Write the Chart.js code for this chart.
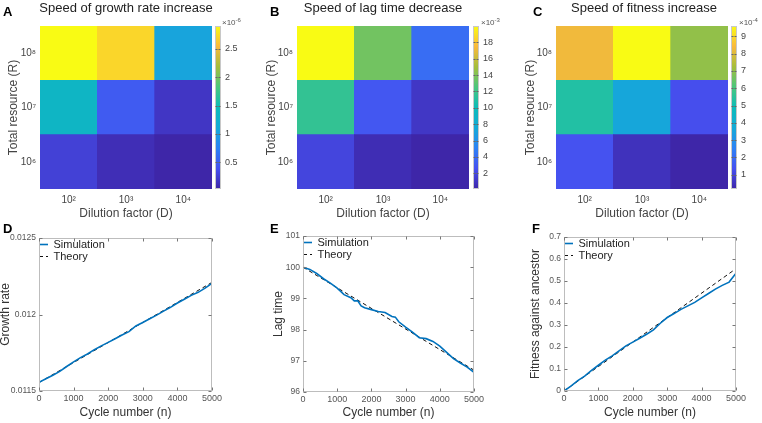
<!DOCTYPE html>
<html><head><meta charset="utf-8">
<script src="https://cdn.jsdelivr.net/npm/chart.js@4.4.1/dist/chart.umd.min.js"></script>
<style>
html,body{margin:0;padding:0;background:#fff;}
body{width:762px;height:423px;position:relative;overflow:hidden;font-family:"Liberation Sans",Arial,sans-serif;}
canvas.c{position:absolute;}
.t{position:absolute;white-space:nowrap;color:#222;font-size:13px;line-height:13px;}
.ttl{text-align:center;}
.l{position:absolute;font-weight:bold;font-size:13px;line-height:13px;color:#000;}
.e{position:absolute;font-size:8px;line-height:8px;color:#555;white-space:nowrap;}
.e sup{font-size:6px;vertical-align:3px;}
</style></head><body>

<canvas id="hA" class="c" width="254" height="225" style="left:0px;top:0px"></canvas>
<canvas id="hB" class="c" width="254" height="225" style="left:254px;top:0px"></canvas>
<canvas id="hC" class="c" width="254" height="225" style="left:508px;top:0px"></canvas>
<canvas id="cA" class="c" width="40" height="225" style="left:210px;top:0px"></canvas>
<canvas id="cB" class="c" width="40" height="225" style="left:468px;top:0px"></canvas>
<canvas id="cC" class="c" width="36" height="225" style="left:726px;top:0px"></canvas>
<canvas id="lD" class="c" width="254" height="198" style="left:0px;top:225px"></canvas>
<canvas id="lE" class="c" width="254" height="198" style="left:254px;top:225px"></canvas>
<canvas id="lF" class="c" width="254" height="198" style="left:508px;top:225px"></canvas>

<div class="l" style="left:3px;top:5px">A</div>
<div class="l" style="left:270px;top:5px">B</div>
<div class="l" style="left:533px;top:5px">C</div>
<div class="l" style="left:3px;top:222px">D</div>
<div class="l" style="left:270px;top:222px">E</div>
<div class="l" style="left:532px;top:222px">F</div>

<div class="t ttl" style="left:26px;width:200px;top:1px">Speed of growth rate increase</div>
<div class="t ttl" style="left:283px;width:200px;top:1px">Speed of lag time decrease</div>
<div class="t ttl" style="left:544px;width:200px;top:1px">Speed of fitness increase</div>

<div class="e" style="left:222px;top:16px">×10<sup>-6</sup></div>
<div class="e" style="left:481px;top:16px">×10<sup>-3</sup></div>
<div class="e" style="left:739px;top:16px">×10<sup>-4</sup></div>

<script>
// ---------------- data ----------------
const dilutionLabels = ['10²', '10³', '10⁴'];          // D
const resourceLabels = ['10⁶', '10⁷', '10⁸'];          // R, bottom to top
// rows: R = 1e6, 1e7, 1e8 ; columns: D = 1e2, 1e3, 1e4
const growthSpeed  = [[0.26, 0.10, 0.03], [1.33, 0.47, 0.17], [2.90, 2.70, 1.05]];   // x1e-6
const lagSpeed     = [[1.9, 0.5, 0.08],   [11.6, 2.9, 1.1],   [20.0, 13.6, 4.0]];    // x1e-3
const fitnessSpeed = [[1.4, 0.5, 0.17],   [5.3, 3.6, 1.3],    [8.3, 9.6, 7.0]];      // x1e-4
const growthBarTicks  = [0.5, 1, 1.5, 2, 2.5];
const lagBarTicks     = [2, 4, 6, 8, 10, 12, 14, 16, 18];
const fitnessBarTicks = [1, 2, 3, 4, 5, 6, 7, 8, 9];

const cycleTicks = [0, 1000, 2000, 3000, 4000, 5000];
const growthTicks = [0.0115, 0.012, 0.0125];
const lagTicks = [96, 97, 98, 99, 100, 101];
const fitnessTicks = [0, 0.1, 0.2, 0.3, 0.4, 0.5, 0.6, 0.7];

const simCycles = [0,200,400,600,800,1000,1200,1400,1600,1800,2000,2200,2400,2600,2800,3000,3200,3400,3600,3800,4000,4200,4400,4600,4800,5000];
const simGrowth = [0.011557,0.011580,0.011603,0.011628,0.011660,0.011690,0.011718,0.011742,0.011770,0.011795,0.011818,0.011842,0.011866,0.011888,0.011925,0.011948,0.011972,0.011996,0.012022,0.012047,0.012075,0.012100,0.012125,0.012145,0.012172,0.012204];
const simLagCycles = [0,200,400,600,800,1000,1200,1400,1500,1600,1700,1800,2000,2200,2400,2600,2700,2800,3000,3200,3400,3600,3800,4000,4200,4400,4600,4800,5000];
const simLag = [100.0,99.93,99.80,99.63,99.49,99.33,99.12,99.02,98.92,98.92,98.76,98.70,98.64,98.58,98.55,98.42,98.40,98.25,98.08,97.92,97.74,97.71,97.62,97.47,97.27,97.07,96.93,96.80,96.63];
const simFitness = [0,0.022,0.047,0.068,0.094,0.117,0.140,0.160,0.182,0.205,0.222,0.240,0.258,0.278,0.308,0.334,0.352,0.371,0.387,0.403,0.423,0.443,0.463,0.480,0.495,0.535];
const theoryCycles = [0, 5000];
const theoryGrowth = [0.011555, 0.01221];
const theoryLag = [100.0, 96.70];
const theoryFitness = [0, 0.556];

// ---------------- helpers ----------------
const PARULA = [[62,38,168],[70,80,240],[45,130,245],[20,170,215],[12,188,185],[75,198,125],[165,190,60],[250,185,60],[249,251,20]];
function parula(t){
  t = Math.max(0, Math.min(1, t));
  const s = t * (PARULA.length - 1);
  const i = Math.min(Math.floor(s), PARULA.length - 2);
  const f = s - i, a = PARULA[i], b = PARULA[i+1];
  return 'rgb(' + a.map((v,k)=>Math.round(v + (b[k]-v)*f)).join(',') + ')';
}

Chart.defaults.font.family = '"Liberation Sans", Arial, sans-serif';
Chart.defaults.animation = false;
Chart.defaults.responsive = false;
Chart.defaults.devicePixelRatio = 1;
Chart.defaults.plugins.tooltip.enabled = false;

const NOGRID = {display: false, drawTicks: false, tickLength: 0};

const framePlugin = {
  id: 'frame',
  afterLayout(chart){
    // place an inside-the-axes legend at the top-left corner of the plot area
    const lg = chart.legend;
    if (lg && lg.options && lg.options.display && lg.options.position === 'chartArea') {
      const h = lg.bottom - lg.top;
      lg.top = chart.chartArea.top;
      lg.bottom = lg.top + h;
      const w = lg.right - lg.left;
      lg.left = chart.chartArea.left - 1;
      lg.right = lg.left + w;
    }
  },
  afterDatasetsDraw(chart, args, opts){
    if (!opts || !opts.enabled) return;
    const {ctx, chartArea: a} = chart;
    ctx.save();
    ctx.strokeStyle = opts.color || '#bdbdbd';
    ctx.lineWidth = 1;
    const L = Math.round(a.left)+0.5, T = Math.round(a.top)+0.5, R = Math.round(a.right)-0.5, B = Math.round(a.bottom)-0.5;
    ctx.strokeRect(L, T, R-L, B-T);
    const tl = opts.tick || 3;
    ctx.strokeStyle = opts.tickColor || '#888';
    ctx.beginPath();
    if (opts.xTicks) {
      const xs = chart.scales.x;
      xs.ticks.forEach(t => { const p = Math.round(xs.getPixelForValue(t.value))+0.5; ctx.moveTo(p,B); ctx.lineTo(p,B-tl); ctx.moveTo(p,T); ctx.lineTo(p,T+tl); });
    }
    if (opts.yTicks) {
      const ys = chart.scales.y;
      ys.ticks.forEach(t => { const p = Math.round(ys.getPixelForValue(t.value))+0.5; ctx.moveTo(L,p); ctx.lineTo(L+tl,p); ctx.moveTo(R,p); ctx.lineTo(R-tl,p); });
    }
    ctx.stroke();
    ctx.restore();
  }
};
Chart.register(framePlugin);

function makeHeatmap(id, values, pad, yWidth){
  const flat = values.flat(), lo = Math.min(...flat), hi = Math.max(...flat);
  new Chart(document.getElementById(id), {
    type: 'bar',
    data: {
      labels: dilutionLabels,
      datasets: resourceLabels.map((r, i) => ({
        label: r,
        data: dilutionLabels.map(() => 1),
        backgroundColor: values[i].map(v => parula((v - lo) / (hi - lo))),
        borderWidth: 0, barPercentage: 1, categoryPercentage: 1
      }))
    },
    options: {
      layout: {padding: pad},
      plugins: {legend: {display: false}},
      scales: {
        x: {stacked: true, grid: NOGRID, border: {display: false},
            ticks: {color: '#444', font: {size: 10}, padding: 5, maxRotation: 0},
            title: {display: true, text: 'Dilution factor (D)', color: '#444', font: {size: 12, lineHeight: 1}, padding: {top: 0, bottom: 5}},
            afterFit(s){ s.height = 36; }},
        y: {stacked: true, min: 0, max: 3, grid: NOGRID, border: {display: false},
            afterBuildTicks(s){ s.ticks = [0.5, 1.5, 2.5].map(v => ({value: v})); },
            ticks: {color: '#444', font: {size: 10}, padding: 4, callback: v => resourceLabels[Math.floor(v)]},
            title: {display: true, text: 'Total resource (R)', color: '#444', font: {size: 12, lineHeight: 1}, padding: {top: 0, bottom: 0}},
            afterFit(s){ s.width = yWidth; }}
      }
    }
  });
}

function makeColorbar(id, values, ticks, yWidth){
  const flat = values.flat(), lo = Math.min(...flat), hi = Math.max(...flat);
  new Chart(document.getElementById(id), {
    type: 'bar',
    data: {labels: [''], datasets: [{
      data: [[lo, hi]],
      backgroundColor: (c) => {
        const a = c.chart.chartArea; if (!a) return '#888';
        const g = c.chart.ctx.createLinearGradient(0, a.bottom, 0, a.top);
        PARULA.forEach((p, i) => g.addColorStop(i / (PARULA.length - 1), 'rgb(' + p.join(',') + ')'));
        return g;
      },
      borderWidth: 0, barPercentage: 1, categoryPercentage: 1, inflateAmount: 0
    }]},
    options: {
      layout: {padding: {left: 5, top: 26, bottom: 36, right: 0}},
      plugins: {legend: {display: false}, frame: {enabled: true, yTicks: true, tick: 2, color: '#c8c8c8', tickColor: '#666'}},
      scales: {
        x: {display: false},
        y: {position: 'right', min: lo, max: hi, grid: NOGRID, border: {display: false},
            afterBuildTicks(s){ s.ticks = ticks.map(v => ({value: v})); },
            ticks: {color: '#444', font: {size: 9}, padding: 4, callback: v => String(v)},
            afterFit(s){ s.width = yWidth; }}
      }
    }
  });
}

function makeLine(id, simX, simY, thX, thY, yTicks, yTitle, pad, yWidth, xHeight){
  new Chart(document.getElementById(id), {
    type: 'line',
    data: {datasets: [
      {label: 'Simulation', data: simX.map((x, i) => ({x, y: simY[i]})), borderColor: '#0072BD', borderWidth: 1.6, pointRadius: 0, pointStyle: 'line', tension: 0},
      {label: 'Theory', data: thX.map((x, i) => ({x, y: thY[i]})), borderColor: '#111', borderWidth: 1, borderDash: [4, 3], pointRadius: 0, pointStyle: 'line', tension: 0}
    ]},
    options: {
      layout: {padding: pad},
      plugins: {
        frame: {enabled: true, xTicks: true, yTicks: true, tick: 3, color: '#bdbdbd', tickColor: '#777'},
        legend: {position: 'chartArea', align: 'start',
          labels: {usePointStyle: true, pointStyle: 'line', pointStyleWidth: 9, font: {size: 11}, color: '#222', padding: 1,
            generateLabels(chart){
              const items = Chart.defaults.plugins.legend.labels.generateLabels(chart);
              items.forEach(it => { const ds = chart.data.datasets[it.datasetIndex]; it.lineDash = ds.borderDash || []; it.lineWidth = ds.borderWidth; it.strokeStyle = ds.borderColor; });
              return items;
            }}}
      },
      scales: {
        x: {type: 'linear', min: 0, max: 5000, grid: NOGRID, border: {display: false},
            afterBuildTicks(s){ s.ticks = cycleTicks.map(v => ({value: v})); },
            ticks: {color: '#555', font: {size: 9}, padding: 2, maxRotation: 0, callback: v => String(v)},
            title: {display: true, text: 'Cycle number (n)', color: '#333', font: {size: 12, lineHeight: 1}, padding: {top: 0, bottom: 4}},
            afterFit(s){ s.height = xHeight; }},
        y: {type: 'linear', min: yTicks[0], max: yTicks[yTicks.length - 1], grid: NOGRID, border: {display: false},
            afterBuildTicks(s){ s.ticks = yTicks.map(v => ({value: v})); },
            ticks: {color: '#555', font: {size: 8.5}, padding: 3, callback: v => String(v)},
            title: {display: true, text: yTitle, color: '#333', font: {size: 12, lineHeight: 1}, padding: {top: 0, bottom: 0}},
            afterFit(s){ s.width = yWidth; }}
      }
    }
  });
}

makeHeatmap('hA', growthSpeed,  {left: 8,  top: 26, right: 42, bottom: 0}, 32);
makeHeatmap('hB', lagSpeed,     {left: 12, top: 26, right: 39, bottom: 0}, 31);
makeHeatmap('hC', fitnessSpeed, {left: 17, top: 26, right: 34, bottom: 0}, 31);
makeColorbar('cA', growthSpeed, growthBarTicks, 29);
makeColorbar('cB', lagSpeed, lagBarTicks, 29);
makeColorbar('cC', fitnessSpeed, fitnessBarTicks, 25);
makeLine('lD', simCycles, simGrowth, theoryCycles, theoryGrowth, growthTicks, 'Growth rate', {left: 0, top: 13, right: 42, bottom: 0}, 39, 32);
makeLine('lE', simLagCycles, simLag, theoryCycles, theoryLag, lagTicks, 'Lag time', {left: 19, top: 11, right: 34, bottom: 0}, 30, 31);
makeLine('lF', simCycles, simFitness, theoryCycles, theoryFitness, fitnessTicks, 'Fitness against ancestor', {left: 22, top: 12, right: 26, bottom: 0}, 34, 32);
</script>
</body></html>
